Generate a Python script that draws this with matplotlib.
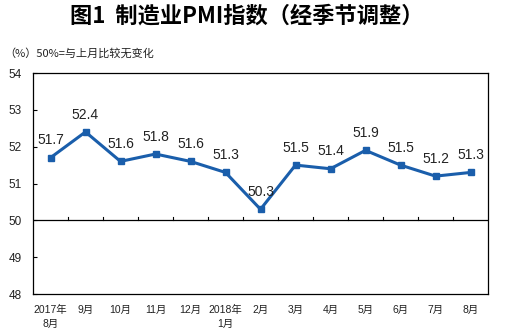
import matplotlib
matplotlib.use("Agg")
import matplotlib.pyplot as plt
import numpy as np

plt.rcParams['font.family'] = ['Liberation Sans', 'Noto Sans CJK SC', 'DejaVu Sans']

months = ["2017年\n8月", "9月", "10月", "11月", "12月", "2018年\n1月", "2月",
          "3月", "4月", "5月", "6月", "7月", "8月"]
pmi = [51.7, 52.4, 51.6, 51.8, 51.6, 51.3, 50.3, 51.5, 51.4, 51.9, 51.5, 51.2, 51.3]
y_ticks = [48, 49, 50, 51, 52, 53, 54]

line_color = "#1A5EAB"

fig = plt.figure(figsize=(5.14, 3.35), dpi=100)
ax = fig.add_axes([33 / 514, 1 - 294 / 335, 455 / 514, 221 / 335])

x = np.arange(len(pmi))
ax.plot(x, pmi, color=line_color, lw=2.2, marker="s", ms=4.5,
        markerfacecolor=line_color, markeredgecolor=line_color, zorder=3)
for xi, v in zip(x, pmi):
    ax.annotate(f"{v:.1f}", (xi, v), xytext=(0, 12.5), textcoords="offset points",
                ha="center", va="center", fontsize=10, color="#222222")

ax.set_xlim(-0.5, len(pmi) - 0.5)
ax.set_ylim(y_ticks[0], y_ticks[-1])

# horizontal axis line at the 50 mark with category separators
ax.axhline(50, color="black", lw=0.9, zorder=2)
for b in np.arange(0.5, len(pmi) - 0.5, 1.0):
    ax.plot([b, b], [50, 50.08], color="black", lw=0.8, zorder=2)

ax.set_yticks(y_ticks)
ax.set_yticklabels([str(t) for t in y_ticks], fontsize=8.5, color="#222222")
ax.tick_params(axis="y", direction="in", length=3, width=0.8, pad=8)

ax.set_xticks(x)
ax.set_xticklabels(months, fontsize=7.5, color="#222222", linespacing=1.5, va="top")
ax.tick_params(axis="x", length=0, pad=8)

for s in ax.spines.values():
    s.set_color("black")
    s.set_linewidth(0.9)

fig.text(0.481, 0.952, "图1  制造业PMI指数（经季节调整）", ha="center", va="center",
         fontsize=16, fontweight="bold", family=["Noto Sans CJK SC", "DejaVu Sans"])
fig.text(0.008, 0.842, "（%）50%=与上月比较无变化", ha="left", va="center",
         fontsize=8, color="#222222", family=["Noto Sans CJK SC", "DejaVu Sans"])

fig.savefig("out.png", dpi=100, facecolor="white")
